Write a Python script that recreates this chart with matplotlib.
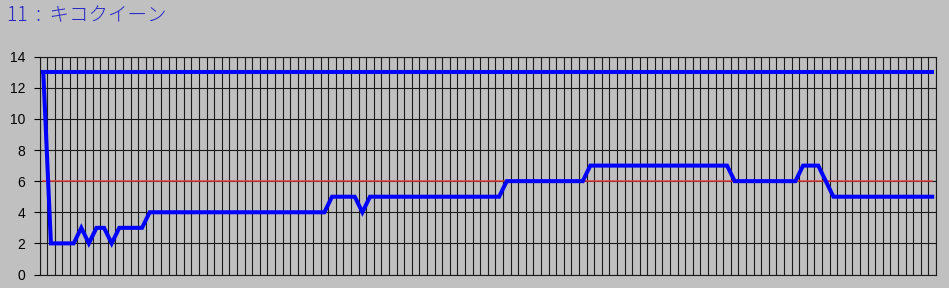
import matplotlib
matplotlib.use("Agg")
import matplotlib.pyplot as plt
import numpy as np

# chart data
title_text = "11 : キコクイーン"
field_size = [13] * 118          # top blue line
threshold = [6] * 118            # red reference line
rank = ([13] + [2] * 4 + [3] + [2] + [3] * 2 + [2] + [3] * 4 + [4] * 24
        + [5] * 4 + [4] + [5] * 18 + [6] * 11 + [7] * 19 + [6] * 9
        + [7] * 3 + [6] + [5] * 14)
y_ticks = [0, 2, 4, 6, 8, 10, 12, 14]

x = np.arange(len(rank))

fig = plt.figure(figsize=(9.49, 2.88), dpi=100, facecolor="#c0c0c0")
ax = fig.add_axes([39.5 / 949, 13.5 / 288, 896.5 / 949, 217.8 / 288])
ax.set_facecolor("#c0c0c0")

ax.plot(x, threshold, color="#e03c3c", linewidth=1.1, zorder=3)
ax.plot(x, field_size, color="#0000ff", linewidth=2.9, solid_joinstyle="miter", zorder=4)
ax.plot(x, rank, color="#0000ff", linewidth=2.9, solid_joinstyle="miter", zorder=4)

ax.set_xlim(-0.5, len(rank) - 0.5)
ax.set_ylim(0, 14)
ax.set_xticks(np.arange(-0.5, len(rank), 1.0))
ax.set_xticklabels([])
ax.tick_params(axis="x", length=0)
ax.set_yticks(y_ticks)
ax.set_yticklabels([str(v) for v in y_ticks], fontsize=10, family="Liberation Sans")
ax.tick_params(axis="y", length=4.3, width=0.8, pad=6, color="black")
ax.grid(True, color="#1a1a1a", linewidth=0.8)
ax.set_axisbelow(True)
for s in ax.spines.values():
    s.set_color("#1a1a1a")
    s.set_linewidth(0.8)

fig.text(7 / 949, 1 - 16 / 288, title_text.replace(" ", "  "), color="#2828c8",
         fontsize=14, fontweight="light",
         family=["Noto Sans CJK JP", "DejaVu Sans"], va="center", ha="left")

fig.savefig("out.png", dpi=100, facecolor=fig.get_facecolor())
